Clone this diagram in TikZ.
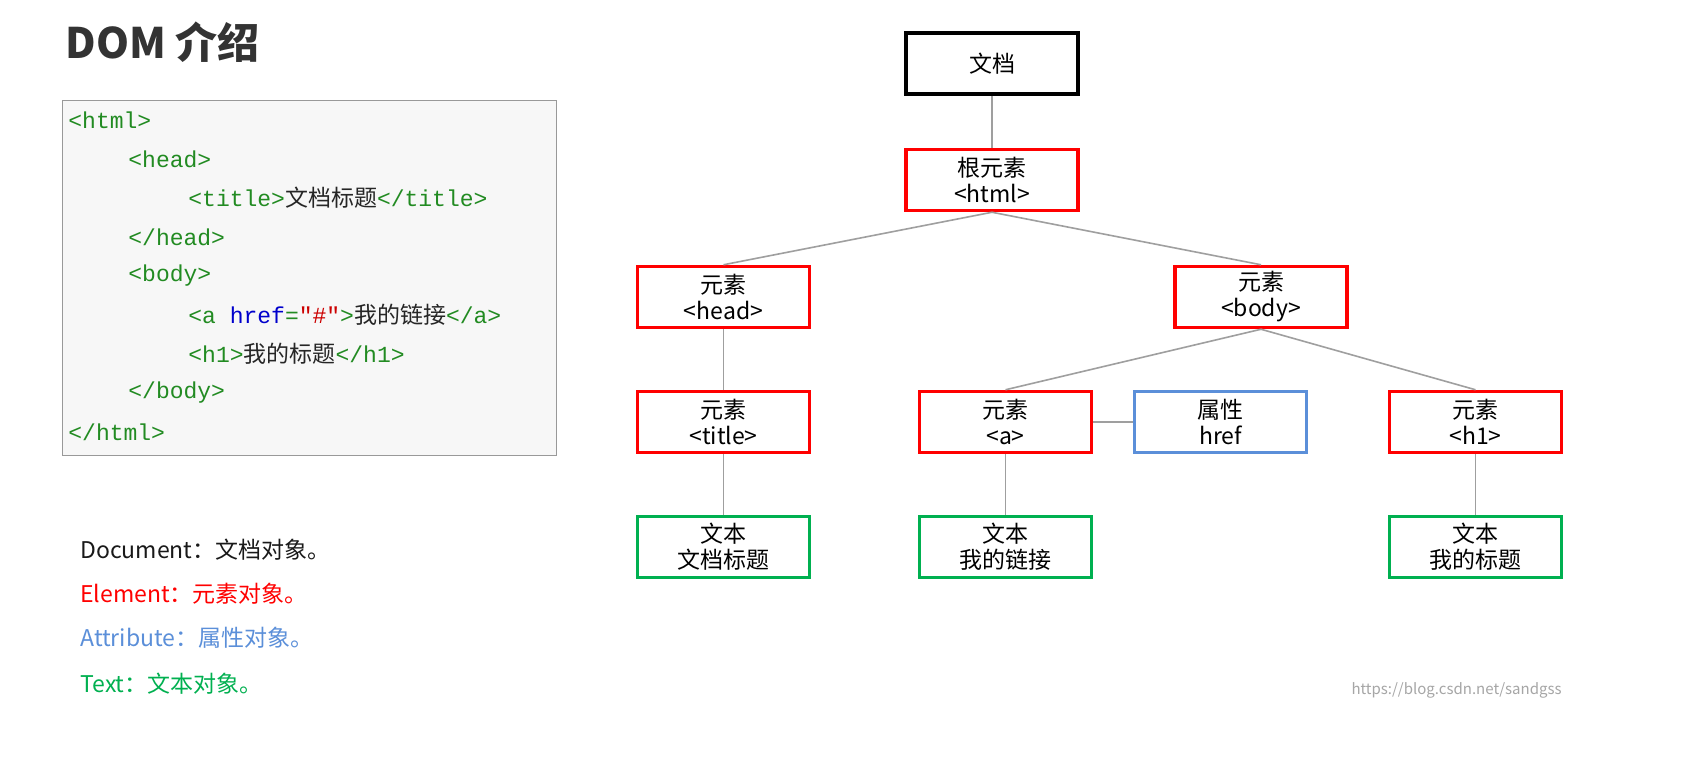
\documentclass[tikz,border=0pt]{standalone}
\usepackage{fontspec}
\setmainfont{Noto Sans CJK SC}
\newfontfamily\cjk{Noto Sans CJK SC}
\setmonofont{Liberation Mono}
\begin{document}
\begin{tikzpicture}[x=0.5pt,y=-0.5pt,
  box/.style={draw=#1,line width=1.75pt,minimum width=86pt,minimum height=30.5pt,align=center,font=\fontsize{11.5}{13}\selectfont,inner sep=0pt},
  conn/.style={draw=gray!75,line width=0.8pt},
  code/.style={anchor=west,inner sep=0pt,font=\fontsize{11.5}{13}\ttfamily,text=tagc},
  leg/.style={anchor=west,inner sep=0pt,font=\fontsize{11.5}{13}\selectfont}]
\definecolor{tagc}{HTML}{228B22}
\definecolor{redc}{HTML}{FF0000}
\definecolor{bluec}{HTML}{5B8FD9}
\definecolor{greenc}{HTML}{00B050}
\useasboundingbox (0,0) rectangle (1692,762);
\fill[white] (0,0) rectangle (1692,762);
\node[anchor=west,inner sep=0pt,font=\fontsize{21}{24}\bfseries\selectfont,text=black!80] (ttl) at (65,42) {DOM 介绍};
\draw[fill=black!3,draw=black!40,line width=0.5pt] (62,100) rectangle (556,455);
\node[code] (c1) at (68,120) {<html>};
\node[code] (c2) at (128,159) {<head>};
\node[code] (c3) at (188,198) {<title>{\cjk\color{black!85}文档标题}</title>};
\node[code] (c4) at (128,237) {</head>};
\node[code] (c5) at (128,276) {<body>};
\node[code] (c6) at (188,315) {<a {\color{blue!80!black}href}=\textcolor{red!80!black}{"\#"}>{\cjk\color{black!85}我的链接}</a>};
\node[code] (c7) at (188,354) {<h1>{\cjk\color{black!85}我的标题}</h1>};
\node[code] (c8) at (128,393) {</body>};
\node[code] (c9) at (68,432) {</html>};
\node[leg,text=black!90] (l1) at (80,550) {Document：文档对象。};
\node[leg,text=redc] (l2) at (80,594) {Element：元素对象。};
\node[leg,text=bluec] (l3) at (80,638) {Attribute：属性对象。};
\node[leg,text=greenc] (l4) at (80,684) {Text：文本对象。};
\node[anchor=east,inner sep=0pt,font=\fontsize{7.5}{9}\selectfont,text=black!35] (wm) at (1562,690) {https://blog.csdn.net/sandgss};
\node[box=black] (doc) at (992,63.5) {文档};
\node[box=redc] (root) at (992,180) {根元素\\<html>};
\node[box=redc] (head) at (723.5,297) {元素\\<head>};
\node[box=redc] (body) at (1261,297) {元素\\<body>};
\node[box=redc] (title) at (723.5,422) {元素\\<title>};
\node[box=redc] (a) at (1005.5,422) {元素\\<a>};
\node[box=bluec] (href) at (1220.5,422) {属性\\href};
\node[box=redc] (h1) at (1475.5,422) {元素\\<h1>};
\node[box=greenc] (t1) at (723.5,547) {文本\\文档标题};
\node[box=greenc] (t2) at (1005.5,547) {文本\\我的链接};
\node[box=greenc] (t3) at (1475.5,547) {文本\\我的标题};
\draw[conn] (doc.south) -- (root.north);
\draw[conn] (root.south) -- (head.north);
\draw[conn] (root.south) -- (body.north);
\draw[conn] (head.south) -- (title.north);
\draw[conn] (body.south) -- (a.north);
\draw[conn] (body.south) -- (h1.north);
\draw[conn] (a.east) -- (href.west);
\draw[conn] (title.south) -- (t1.north);
\draw[conn] (a.south) -- (t2.north);
\draw[conn] (h1.south) -- (t3.north);
\end{tikzpicture}
\end{document}
